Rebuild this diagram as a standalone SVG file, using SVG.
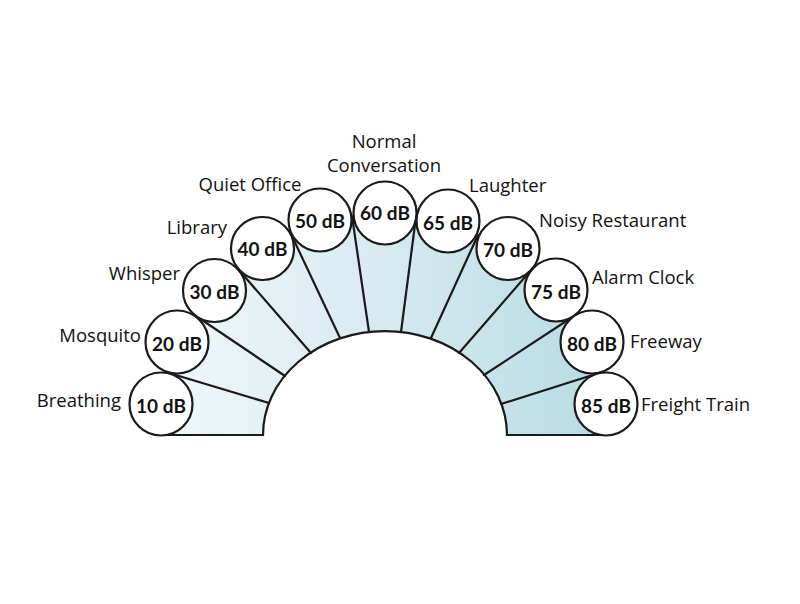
<svg xmlns="http://www.w3.org/2000/svg" width="800" height="604" viewBox="0 0 800 604">
<defs>
<linearGradient id="fan" gradientUnits="userSpaceOnUse" x1="140" y1="0" x2="630" y2="0">
<stop offset="0" stop-color="#f3f9fa"/>
<stop offset="0.5" stop-color="#d6eaef"/>
<stop offset="1" stop-color="#b4dae2"/>
</linearGradient>
<style>
.ln{stroke:#1a1a1a;stroke-width:2.2;fill:none;stroke-linecap:round}
.c{fill:#fff;stroke:#1a1a1a;stroke-width:2.2}
.v{font-family:Lato,"Open Sans","Liberation Sans",sans-serif;font-weight:700;font-size:19px;fill:#111;text-anchor:middle;dominant-baseline:central}
.l{font-family:"Open Sans",Lato,"Liberation Sans",sans-serif;font-size:18.5px;fill:#111;dominant-baseline:central}
.e{text-anchor:end}.m{text-anchor:middle}
</style>
</defs>
<rect width="800" height="604" fill="#fff"/>
<path id="fanfill" d="M161,435 L263,435 A122,104 0 0 1 507,435 L606,435 L606,404 L592,342 L556,290 L508,248.5 L448,221 L385,213 L320,220 L262.5,248.5 L214.5,290.5 L177,342 L161,404 Z" fill="url(#fan)"/>
<g id="connectors">
<path class="ln" d="M161,435 L263,435 A122,104 0 0 1 507,435 L606,435"/>
<line class="ln" x1="169" y1="373" x2="269" y2="403"/>
<line class="ln" x1="196" y1="316" x2="285" y2="376"/>
<line class="ln" x1="238" y1="269" x2="311" y2="353"/>
<line class="ln" x1="291" y1="234" x2="340" y2="338"/>
<line class="ln" x1="352" y1="216" x2="369" y2="332"/>
<line class="ln" x1="416" y1="217" x2="401" y2="332"/>
<line class="ln" x1="478" y1="235" x2="431" y2="338"/>
<line class="ln" x1="532" y1="269" x2="459" y2="353"/>
<line class="ln" x1="574" y1="316" x2="484" y2="375"/>
<line class="ln" x1="599" y1="373" x2="501" y2="404"/>
</g>
<g id="n10"><circle class="c" cx="161" cy="404" r="31.5"/><text class="v" x="161" y="405">10 dB</text><text class="l e" x="121" y="399">Breathing</text></g>
<g id="n20"><circle class="c" cx="177" cy="342" r="31.5"/><text class="v" x="177" y="343">20 dB</text><text class="l e" x="141" y="334">Mosquito</text></g>
<g id="n30"><circle class="c" cx="214.5" cy="290.5" r="31.5"/><text class="v" x="214.5" y="291">30 dB</text><text class="l e" x="180" y="272">Whisper</text></g>
<g id="n40"><circle class="c" cx="262.5" cy="248.5" r="31.5"/><text class="v" x="262.5" y="248">40 dB</text><text class="l e" x="227" y="226">Library</text></g>
<g id="n50"><circle class="c" cx="320" cy="220" r="31.5"/><text class="v" x="320" y="220">50 dB</text><text class="l m" x="250" y="183">Quiet Office</text></g>
<g id="n60"><circle class="c" cx="385" cy="213" r="31.5"/><text class="v" x="385" y="212">60 dB</text><text class="l m" x="384" y="140">Normal</text><text class="l m" x="384" y="164">Conversation</text></g>
<g id="n65"><circle class="c" cx="448" cy="221" r="31.5"/><text class="v" x="448" y="222">65 dB</text><text class="l" x="469" y="184">Laughter</text></g>
<g id="n70"><circle class="c" cx="508" cy="248.5" r="31.5"/><text class="v" x="508" y="249">70 dB</text><text class="l" x="539" y="219">Noisy Restaurant</text></g>
<g id="n75"><circle class="c" cx="556" cy="290" r="31.5"/><text class="v" x="556" y="291">75 dB</text><text class="l" x="592" y="276">Alarm Clock</text></g>
<g id="n80"><circle class="c" cx="592" cy="342" r="31.5"/><text class="v" x="592" y="343">80 dB</text><text class="l" x="630" y="340">Freeway</text></g>
<g id="n85"><circle class="c" cx="606" cy="404" r="31.5"/><text class="v" x="606" y="405">85 dB</text><text class="l" x="641" y="403">Freight Train</text></g>
</svg>
